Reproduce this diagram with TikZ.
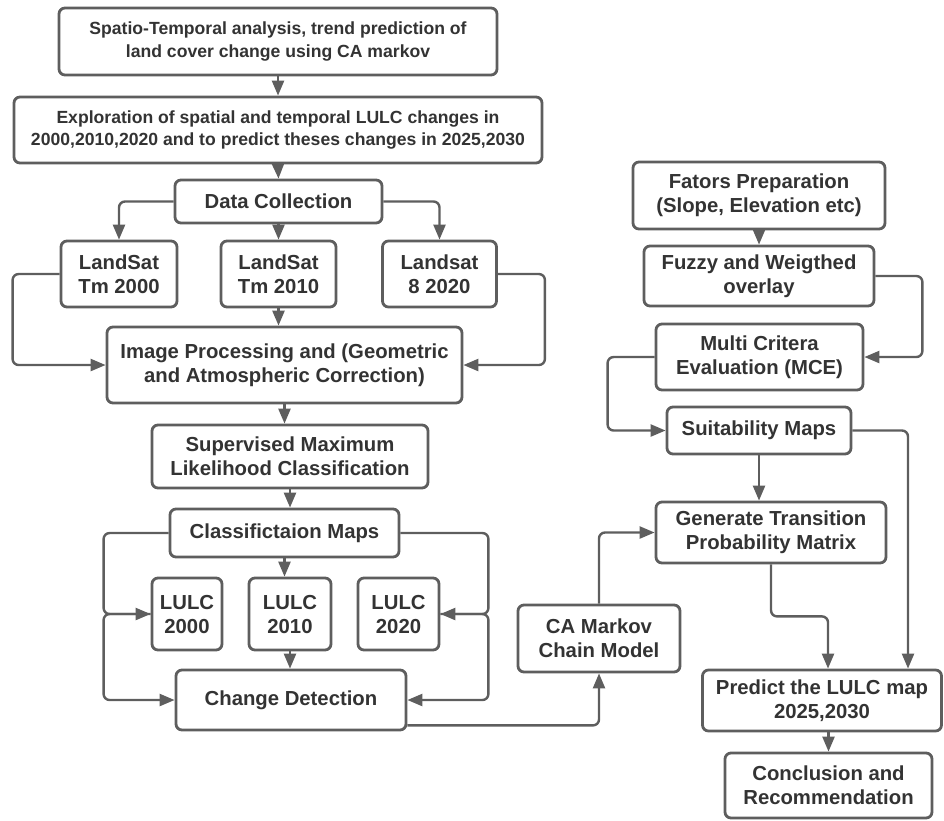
\documentclass[tikz,border=0pt]{standalone}
\usepackage{fontspec}
\setmainfont{Liberation Sans}
\usetikzlibrary{arrows.meta}
\definecolor{linegray}{HTML}{5E5E5E}
\definecolor{textgray}{HTML}{333333}
\begin{document}
\begin{tikzpicture}[x=1pt,y=-1pt,
	box/.style={draw=linegray, line width=2.8pt, rounded corners=6pt, fill=white, inner sep=0pt, align=center, text=textgray, font=\fontsize{20.3}{24}\selectfont\bfseries},
	headbox/.style={box, font=\fontsize{17.6}{22.5}\selectfont\bfseries},
	arr/.style={draw=linegray, line width=2.4pt, rounded corners=6pt, -{Triangle[width=12pt,length=15pt]}}]
	\useasboundingbox (0,0) rectangle (944,820);
	\node[headbox, minimum width=438, minimum height=67] (top) at (278,41.5) {Spatio-Temporal analysis, trend prediction of\\land cover change using CA markov};
	\node[headbox, minimum width=528, minimum height=66] (expl) at (278,130) {Exploration of spatial and temporal LULC changes in\\2000,2010,2020 and to predict theses changes in 2025,2030};
	\node[box, minimum width=207, minimum height=43] (dc) at (278.5,201.5) {Data Collection};
	\node[box, minimum width=116, minimum height=66] (ls00) at (119,274) {LandSat\\Tm 2000};
	\node[box, minimum width=115, minimum height=66] (ls10) at (278.5,274) {LandSat\\Tm 2010};
	\node[box, minimum width=114, minimum height=66] (ls20) at (439.5,274) {Landsat\\8 2020};
	\node[box, minimum width=355, minimum height=76] (imgp) at (284.5,365) {Image Processing and (Geometric\\and Atmospheric Correction)};
	\node[box, minimum width=276, minimum height=63] (sup) at (290,456.5) {Supervised Maximum\\Likelihood Classification};
	\node[box, minimum width=229, minimum height=48] (cls) at (284.5,533) {Classifictaion Maps};
	\foreach \n/\x/\w/\t in {lu00/187/70/2000, lu10/290/82/2010, lu20/398.5/81/2020}
		\node[box, minimum width=\w, minimum height=72] (\n) at (\x,614) {LULC\\\t};
	\node[box, minimum width=230, minimum height=60] (cd) at (291,700) {Change Detection};
	\node[box, minimum width=162, minimum height=67] (ca) at (599,638.5) {CA Markov\\Chain Model};
	\node[box, minimum width=252, minimum height=67] (fat) at (759,195.5) {Fators Preparation\\(Slope, Elevation etc)};
	\node[box, minimum width=230, minimum height=60] (fuz) at (759,276) {Fuzzy and Weigthed\\overlay};
	\node[box, minimum width=207, minimum height=66] (mce) at (759.5,357) {Multi Critera\\Evaluation (MCE)};
	\node[box, minimum width=184, minimum height=47] (suit) at (759,430.5) {Suitability Maps};
	\node[box, minimum width=230, minimum height=61] (gen) at (771,532.5) {Generate Transition\\Probability Matrix};
	\node[box, minimum width=239, minimum height=61] (pred) at (822,700.5) {Predict the LULC map\\2025,2030};
	\node[box, minimum width=207, minimum height=65] (conc) at (828.5,785.5) {Conclusion and\\Recommendation};

	\draw[arr] (top.south) -- (expl.north);
	\draw[arr] (expl.south) -- (dc.north);
	\draw[arr] (dc.west) -| (ls00.north);
	\draw[arr] (dc.south) -- (ls10.north);
	\draw[arr] (dc.east) -| (ls20.north);
	\draw[arr] (ls00.west) -- ++(-47,0) |- (imgp.west);
	\draw[arr] (ls10.south) -- (ls10.south |- imgp.north);
	\draw[arr] (ls20.east) -- ++(47,0) |- (imgp.east);
	\draw[arr] (imgp.south) -- (imgp.south |- sup.north);
	\draw[arr] (sup.south) -- (sup.south |- cls.north);
	\draw[arr] (cls.south) -- (cls.south |- lu10.north);
	\draw[arr] (cls.west) -- ++(-65,0) |- (lu00.west);
	\draw[arr] (lu00.west) -- ++(-47,0) |- (cd.west);
	\draw[arr] (cls.east) -- ++(88,0) |- (lu20.east);
	\draw[arr] (lu20.east) -- ++(48,0) |- (cd.east);
	\draw[arr] (lu10.south) -- (lu10.south |- cd.north);
	\draw[arr] ([yshift=6]cd.south east) -| (ca.south);
	\draw[arr] (ca.north) |- (gen.west);
	\draw[arr] (fat.south) -- (fuz.north);
	\draw[arr] (fuz.east) -- ++(47,0) |- (mce.east);
	\draw[arr] (mce.west) -- ++(-47,0) |- (suit.west);
	\draw[arr] (suit.south) -- (suit.south |- gen.north);
	\draw[arr] (suit.east) -| ([xshift=86]pred.north);
	\draw[arr] (gen.south) -- ++(0,52) -| ([xshift=6]pred.north);
	\draw[arr] (conc.north |- pred.south) -- (conc.north);
\end{tikzpicture}
\end{document}
